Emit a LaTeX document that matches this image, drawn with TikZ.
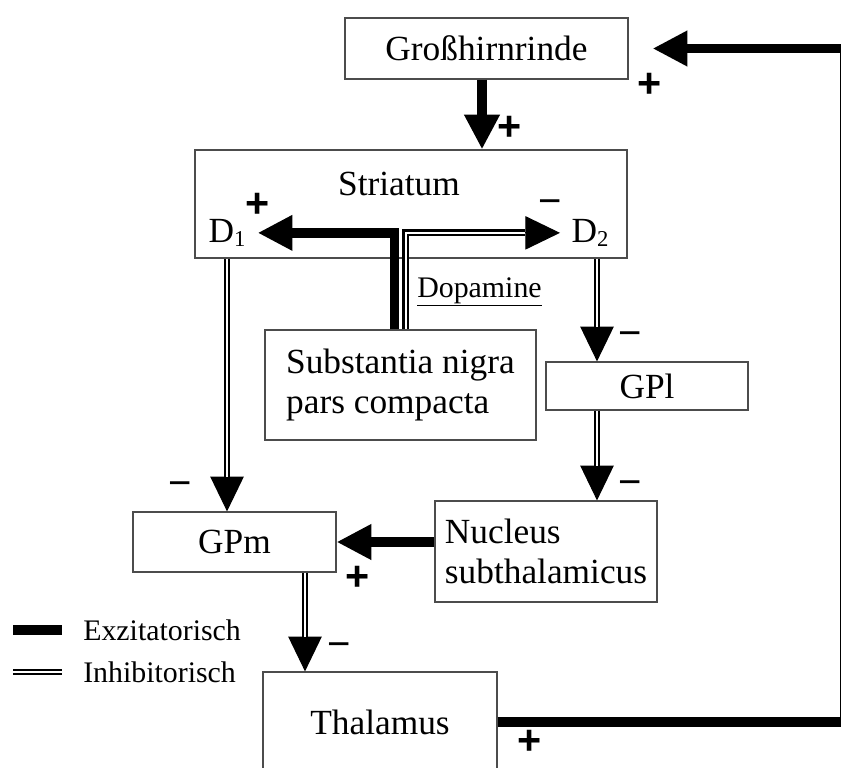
\documentclass[tikz,border=0pt]{standalone}
\usepackage{fontspec}
\setmainfont{Liberation Serif}
\newfontfamily\signfont{Liberation Sans}
\usetikzlibrary{arrows.meta}

\begin{document}
\begin{tikzpicture}[x=0.75pt, y=-0.75pt, every node/.style={font=\fontsize{26.5}{30}\selectfont, align=center}, box/.style={rectangle, draw=black!70, line width=0.9pt, inner sep=0pt}, small/.style={font=\fontsize{22.4}{26}\selectfont, inner sep=0pt}, plus/.style={font=\signfont\bfseries\fontsize{31}{31}\selectfont, inner sep=0pt}, minus/.style={font=\signfont\fontsize{30}{30}\selectfont, inner sep=0pt}, exc/.style={line width=7pt, -{Triangle[length=26pt, width=25pt]}}, inh/.style={line width=0.8pt, -{Triangle[length=26pt, width=25pt]}, postaction={draw, -, double, line width=1.8pt, double distance=1.6pt, shorten >=26pt}}]
\useasboundingbox (0,0) rectangle (841,767);
% boxes
\node[box, minimum width=212.25pt, minimum height=45.75pt] (gross) at (486.5,48.5) {Großhirnrinde};
\node[box, minimum width=324pt, minimum height=81pt] (str) at (411,204) {};
\node (strtxt) at (399,184) {Striatum};
\node[anchor=base west, inner sep=1pt] (d1) at (207,242) {D\raisebox{-0.3ex}{\fontsize{17}{17}\selectfont 1}};
\node[anchor=base west, inner sep=1pt] (d2) at (570,242) {D\raisebox{-0.3ex}{\fontsize{17}{17}\selectfont 2}};
\node[box, minimum width=203.25pt, minimum height=82.5pt, align=left] (snc) at (400.5,385) {Substantia nigra\\pars compacta};
\node[box, minimum width=151.5pt, minimum height=36pt] (gpl) at (647,386) {GPl};
\node[box, minimum width=166.5pt, minimum height=75.75pt, align=left] (nst) at (546,551.5) {Nucleus\\subthalamicus};
\node[box, minimum width=152.25pt, minimum height=45pt] (gpm) at (234.5,542) {GPm};
\node[box, minimum width=175.5pt, minimum height=75pt] (thal) at (380,722) {Thalamus};
\node[small, anchor=base west] (dop) at (417,297) {\underline{Dopamine}};
% helper columns
\coordinate (cx) at (482,0);
\coordinate (d2x) at (597,0);
\coordinate (gx) at (305,0);
\coordinate (rt) at (844.5,0);
% excitatory
\draw[exc] (cx |- gross.south) -- (cx |- str.north);
\draw[exc] ([xshift=-4.5pt]snc.north) |- ([xshift=8pt]d1.east);
\draw[exc] (nst.west |- gpm.east) -- (gpm.east);
\draw[exc, shorten >=18pt] (thal.east) -- (thal.east -| rt) -- (gross.east -| rt) -- (gross.east);
% inhibitory
\draw[inh] ([xshift=4pt]snc.north) |- ([xshift=-7.5pt]d2.west);
\draw[inh] (d1.south |- str.south) -- (d1.south |- gpm.north);
\draw[inh] (d2x |- str.south) -- (d2x |- gpl.north);
\draw[inh] (d2x |- gpl.south) -- (d2x |- nst.north);
\draw[inh] (gx |- gpm.south) -- (gx |- thal.north);
% signs
\node[plus] (pgross) at (510,128) {+};
\node[plus] (pfeed) at (650,85) {+};
\node[plus] (pd1) at (258,205) {+};
\node[minus] (md2) at (550,207) {−};
\node[minus] (md1) at (180,489) {−};
\node[minus] (mgpl) at (630,339) {−};
\node[minus] (mnst) at (630,488) {−};
\node[plus] (pgpm) at (358,578) {+};
\node[minus] (mthal) at (339,650) {−};
\node[plus] (pthal) at (530,742) {+};
% legend
\node[small, anchor=west] (lexc) at (83,630) {Exzitatorisch};
\node[small, anchor=west] (linh) at (83,672) {Inhibitorisch};
\draw[line width=7.5pt] ([xshift=-52.5pt]lexc.west) -- ([xshift=-15.75pt]lexc.west);
\draw[line width=1.8pt, double, double distance=1.6pt] ([xshift=-52.5pt]linh.west) -- ([xshift=-15.75pt]linh.west);
\end{tikzpicture}
\end{document}
